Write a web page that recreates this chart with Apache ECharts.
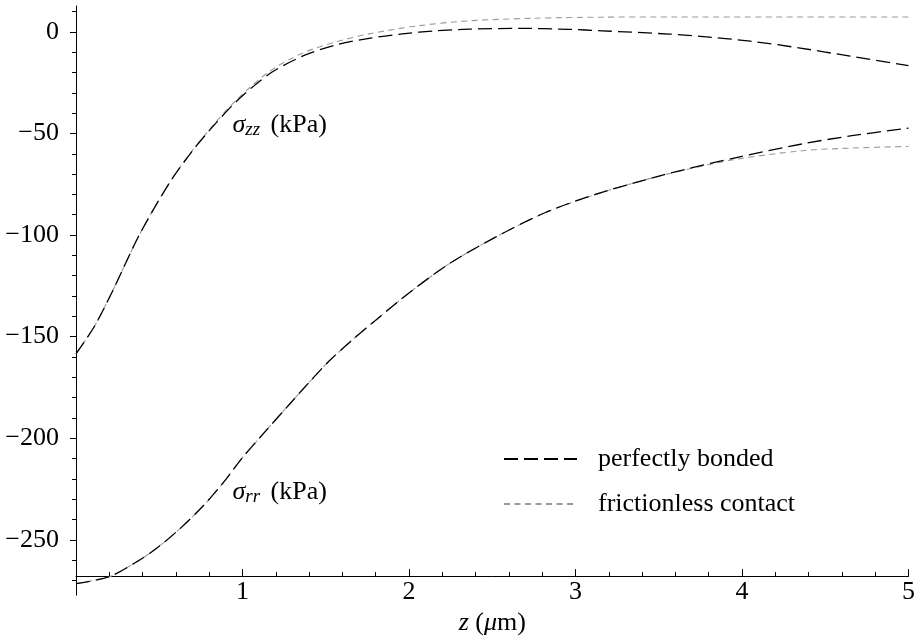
<!DOCTYPE html>
<html>
<head>
<meta charset="utf-8">
<script src="https://cdn.jsdelivr.net/npm/echarts@6/dist/echarts.min.js"></script>
<style>
  html, body { margin: 0; padding: 0; background: #fff; }
  #chart { width: 918px; height: 641px; }
</style>
</head>
<body>
<div id="chart"></div>
<script>
// z (µm) vs stress (kPa)
const zzBonded = [
  [0, -158.5], [0.11, -145], [0.22, -127.5], [0.38, -100], [0.56, -74.5], [0.70, -58.5],
  [0.82, -46.8], [0.96, -34.5], [1.16, -20.8], [1.36, -12], [1.56, -6.5], [1.76, -3.2],
  [1.96, -1.0], [2.16, 0.5], [2.36, 1.3], [2.66, 1.7], [2.96, 1.2], [3.16, 0.5],
  [3.56, -1.1], [3.75, -2.2], [4.05, -4.6], [4.35, -8.0], [4.65, -12.0], [5.0, -16.6]
]
const zzFrictionless = [
  [0, -158.5], [0.11, -145], [0.22, -127.5], [0.38, -100], [0.56, -74.5], [0.70, -58.3],
  [0.82, -46.3], [0.96, -33.8], [1.16, -19.6], [1.36, -10.5], [1.56, -5.0], [1.76, -1.0],
  [2.06, 3.0], [2.36, 5.4], [2.76, 6.7], [3.16, 7.2], [3.6, 7.3], [4.2, 7.3], [5.0, 7.3]
]
const rrBonded = [
  [0, -271.5], [0.2, -268.1], [0.36, -261], [0.48, -254.4], [0.62, -244.8], [0.76, -233.6],
  [0.88, -222.3], [1.0, -209.5], [1.12, -198.2], [1.26, -185.3], [1.4, -172.5], [1.52, -162],
  [1.66, -151.6], [1.8, -141.9], [2.0, -128.5], [2.24, -114.2], [2.52, -101], [2.82, -88.9],
  [3.12, -80], [3.42, -72.8], [3.66, -67.7], [3.96, -62], [4.36, -55.2], [4.66, -51.1], [5.0, -47.4]
]
const rrFrictionless = [
  [0, -271.5], [0.2, -268.1], [0.36, -261], [0.48, -254.4], [0.62, -244.8], [0.76, -233.6],
  [0.88, -222.3], [1.0, -209.5], [1.12, -198.2], [1.26, -185.3], [1.4, -172.5], [1.52, -162],
  [1.66, -151.6], [1.8, -141.9], [2.0, -128.5], [2.24, -114.2], [2.52, -101], [2.82, -88.9],
  [3.12, -80], [3.42, -72.8], [3.66, -67.9], [3.96, -62.8], [4.36, -58.5], [4.66, -57.2], [5.0, -56.4]
]
const yMajorTicks = [0, -50, -100, -150, -200, -250]
const yMinorTicks = [10, 0, -10, -20, -30, -40, -50, -60, -70, -80, -90, -100, -110, -120, -130,
  -140, -150, -160, -170, -180, -190, -200, -210, -220, -230, -240, -250, -260, -270]
const seriesNames = ['perfectly bonded', 'frictionless contact']
const annotations = [
  { coord: [0.94, -45.7], sub: 'zz' },
  { coord: [0.94, -226.5], sub: 'rr' }
]

const FONT = '"Liberation Serif", "DejaVu Serif", serif'
const SIZE = 26
const yMin = -277.2, yMax = 12.7, xAxisAt = -268
const gridTop = 6, gridBottom = 34, chartH = 641
const pxPerUnit = (chartH - gridTop - gridBottom) / (yMax - yMin)

const bondedStyle = { color: '#000', width: 1.3, type: [14, 6] }
const frictionStyle = { color: '#9a9a9a', width: 1.1, type: [6, 4.5] }
const fmtMinus = v => String(v).replace('-', '\u2212')

const richText = {
  s: { fontFamily: FONT, fontSize: SIZE, fontStyle: 'italic', color: '#000' },
  sub: { fontFamily: FONT, fontSize: 19, fontStyle: 'italic', color: '#000', padding: [10, 0, 0, 0] },
  t: { fontFamily: FONT, fontSize: SIZE, color: '#000', padding: [0, 0, 0, 4] }
}

const chart = echarts.init(document.getElementById('chart'))
chart.setOption({
  animation: false,
  backgroundColor: '#fff',
  grid: { left: 76, right: 9, top: gridTop, bottom: gridBottom },
  legend: {
    data: seriesNames,
    orient: 'vertical',
    left: 498,
    top: 441,
    itemWidth: 73,
    itemHeight: 28,
    itemGap: 19,
    selectedMode: false,
    itemStyle: { opacity: 0 },
    textStyle: { fontFamily: FONT, fontSize: SIZE, color: '#000', padding: [0, 0, 0, 16] }
  },
  xAxis: {
    type: 'value',
    min: 0,
    max: 5,
    interval: 1,
    offset: -(xAxisAt - yMin) * pxPerUnit,
    splitLine: { show: false },
    axisLine: { onZero: false, lineStyle: { color: '#000', width: 1 } },
    axisTick: { inside: true, length: 7, lineStyle: { color: '#000' } },
    minorTick: { show: true, splitNumber: 5, length: 4, lineStyle: { color: '#000' } },
    axisLabel: {
      margin: 3,
      fontFamily: FONT,
      fontSize: SIZE,
      color: '#000',
      formatter: v => (v === 0 ? '' : String(v))
    },
    name: '{i|z} ({i|μ}m)',
    nameLocation: 'middle',
    nameGap: 24,
    nameTextStyle: {
      fontFamily: FONT,
      fontSize: SIZE,
      color: '#000',
      rich: { i: { fontFamily: FONT, fontSize: SIZE, fontStyle: 'italic', color: '#000' } }
    }
  },
  yAxis: [
    {
      type: 'value',
      min: yMin,
      max: yMax,
      position: 'left',
      splitLine: { show: false },
      axisLine: { onZero: false, lineStyle: { color: '#000', width: 1 } },
      axisTick: { customValues: yMajorTicks, length: 6, lineStyle: { color: '#000' } },
      axisLabel: {
        customValues: yMajorTicks,
        margin: 17,
        fontFamily: FONT,
        fontSize: SIZE,
        color: '#000',
        formatter: fmtMinus
      }
    },
    {
      type: 'value',
      min: yMin,
      max: yMax,
      position: 'left',
      offset: 0,
      splitLine: { show: false },
      axisLine: { show: false },
      axisTick: { customValues: yMinorTicks, length: 4, lineStyle: { color: '#000' } },
      axisLabel: { show: false }
    }
  ],
  series: [
    { name: seriesNames[1], type: 'line', data: zzFrictionless, symbol: 'none', smooth: 0.3, lineStyle: frictionStyle, itemStyle: { color: frictionStyle.color }, silent: true },
    { name: seriesNames[1], type: 'line', data: rrFrictionless, symbol: 'none', smooth: 0.3, lineStyle: frictionStyle, itemStyle: { color: frictionStyle.color }, silent: true },
    { name: seriesNames[0], type: 'line', data: zzBonded, symbol: 'none', smooth: 0.3, lineStyle: bondedStyle, itemStyle: { color: '#000' }, silent: true },
    { name: seriesNames[0], type: 'line', data: rrBonded, symbol: 'none', smooth: 0.3, lineStyle: bondedStyle, itemStyle: { color: '#000' }, silent: true },
    {
      type: 'scatter',
      symbolSize: 0,
      silent: true,
      itemStyle: { opacity: 1, color: '#000' },
      data: annotations.map(a => ({ value: a.coord, sub: a.sub })),
      label: {
        show: true,
        position: 'right',
        distance: 0,
        color: '#000',
        opacity: 1,
        formatter: p => '{s|σ}{sub|' + p.data.sub + '}{t| (kPa)}',
        rich: richText
      }
    }
  ]
})
</script>
</body>
</html>
